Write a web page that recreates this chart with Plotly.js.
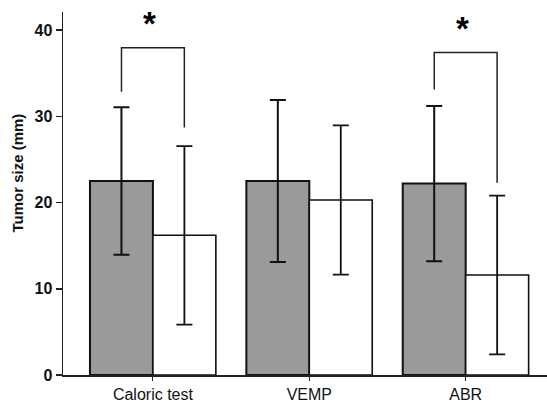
<!DOCTYPE html>
<html>
<head>
<meta charset="utf-8">
<script src="https://cdn.plot.ly/plotly-3.0.1.min.js"></script>
<style>html,body{margin:0;padding:0;background:#fff;}#chart{width:547px;height:403px;}</style>
</head>
<body>
<div id="chart"></div>
<script>
const categories = ["Caloric test", "VEMP", "ABR"];
const groupA = [22.5, 22.5, 22.2];
const groupAErr = [8.55, 9.4, 9.0];
const groupB = [16.2, 20.3, 11.6];
const groupBErr = [10.35, 8.65, 9.2];
const yTicks = [0, 10, 20, 30, 40];
const yTitle = 'Tumor size (mm)';
// significance brackets: [category index, left-leg bottom, top, right-leg bottom]
const brackets = [
  {cat: 0, leftBottom: 32.85, top: 37.95, rightBottom: 28.7},
  {cat: 2, leftBottom: 33.1, top: 37.4, rightBottom: 22.3}
];

const off = 0.201;
const traces = [
  {type: 'bar', x: categories, y: groupA,
   marker: {color: '#9a9a9a', line: {color: '#111', width: 2}},
   error_y: {type: 'data', array: groupAErr, visible: true, color: '#111', thickness: 2, width: 8}},
  {type: 'bar', x: categories, y: groupB,
   marker: {color: '#ffffff', line: {color: '#111', width: 1.6}},
   error_y: {type: 'data', array: groupBErr, visible: true, color: '#111', thickness: 1.8, width: 8}}
];

const shapes = [];
const annotations = [];
brackets.forEach(b => {
  const xl = b.cat - off, xr = b.cat + off;
  shapes.push({type: 'path', xref: 'x', yref: 'y',
    path: `M ${xl} ${b.leftBottom} L ${xl} ${b.top} L ${xr} ${b.top} L ${xr} ${b.rightBottom}`,
    line: {color: '#222', width: 1.5}});
  annotations.push({x: b.cat - 0.02, y: b.top, xref: 'x', yref: 'y', text: '<b>*</b>',
    showarrow: false, yanchor: 'bottom', yshift: 4,
    font: {family: 'Liberation Sans, Arial, sans-serif', size: 33, color: '#000'}});
});
annotations.push({xref: 'paper', yref: 'paper', x: 0, xshift: -45, y: 0.555, textangle: -90,
  text: '<b>' + yTitle + '</b>', showarrow: false, xanchor: 'center', yanchor: 'middle',
  font: {family: 'Liberation Sans, Arial, sans-serif', size: 15, color: '#111'}});

const layout = {
  width: 547, height: 403,
  margin: {l: 63, r: 0, t: 12, b: 28},
  paper_bgcolor: '#fff', plot_bgcolor: '#fff',
  barmode: 'group', bargap: 0.195, bargroupgap: 0,
  showlegend: false,
  font: {family: 'Liberation Sans, Arial, sans-serif', color: '#111'},
  xaxis: {type: 'category', range: [-0.575, 2.52], showline: true, linecolor: '#222', linewidth: 1.5,
    ticks: 'outside', ticklen: 4, tickcolor: '#222', tickwidth: 1,
    tickfont: {size: 16, color: '#111'}, showgrid: false, zeroline: false},
  yaxis: {range: [0, 42.1], showline: true, linecolor: '#222', linewidth: 1.5,
    tickvals: yTicks, ticktext: yTicks.map(String), ticks: 'outside', ticklen: 6, tickcolor: '#222', tickwidth: 1.5,
    tickfont: {size: 16, color: '#111', weight: 'bold'}, showgrid: false, zeroline: false},
  shapes: shapes,
  annotations: annotations
};
Plotly.newPlot('chart', traces, layout, {staticPlot: true});
</script>
</body>
</html>
